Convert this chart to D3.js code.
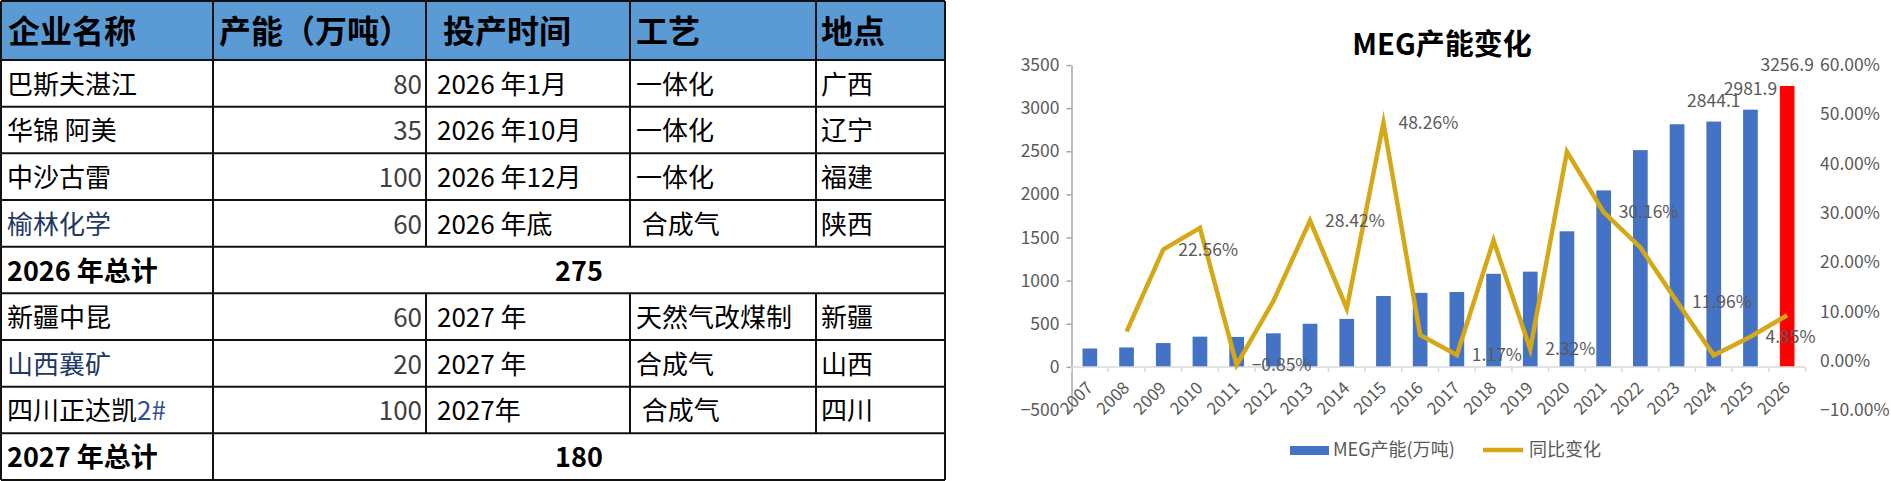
<!DOCTYPE html>
<html><head><meta charset="utf-8">
<script src="https://cdn.jsdelivr.net/npm/d3@7"></script>
<style>
html,body{margin:0;padding:0;background:#fff;}
svg{display:block;}
text{font-family:"Noto Sans CJK SC","Noto Sans",sans-serif;white-space:pre;}
</style></head><body>
<svg id="c" width="1891" height="481"></svg>
<script>
// ---------- table data ----------
const tableHeaders = ["企业名称", "产能（万吨）", "投产时间", "工艺", "地点"];
const companies  = ["巴斯夫湛江", "华锦 阿美", "中沙古雷", "榆林化学", "新疆中昆", "山西襄矿", "四川正达凯2#"];
const capacities = [80, 35, 100, 60, 60, 20, 100];
const startDates = ["2026 年1月", "2026 年10月", "2026 年12月", "2026 年底", "2027 年", "2027 年", "2027年"];
const processes  = ["一体化", "一体化", "一体化", " 合成气", "天然气改煤制", "合成气", " 合成气"];
const locations  = ["广西", "辽宁", "福建", "陕西", "新疆", "山西", "四川"];
const projectYears = [2026, 2026, 2026, 2026, 2027, 2027, 2027];
const totalYears  = [2026, 2027];
const totalLabels = ["2026 年总计", "2027 年总计"];
const totalValues = [275, 180];

// ---------- chart data ----------
const chartTitle = "MEG产能变化";
const years = [2007, 2008, 2009, 2010, 2011, 2012, 2013, 2014, 2015, 2016, 2017, 2018, 2019, 2020, 2021, 2022, 2023, 2024, 2025, 2026];
const capacity = [213, 225, 276, 350, 347, 389, 500, 556, 822, 858, 868, 1079, 1104, 1572, 2046, 2513, 2813, 2844.1, 2981.9, 3256.9];
const yoy = [null, 5.9, 22.56, 26.96, -0.85, 12.1, 28.42, 10.6, 48.26, 5.2, 1.17, 24.4, 2.32, 42.4, 30.16, 23.0, 11.96, 1.1, 4.85, 9.22];
const barLabelYears = [2024, 2025, 2026];
const lineLabelYears = [2009, 2011, 2013, 2015, 2017, 2019, 2021, 2023, 2025];
const highlightYear = 2026;
const leftTicks = [-500, 0, 500, 1000, 1500, 2000, 2500, 3000, 3500];
const rightTicks = [-10, 0, 10, 20, 30, 40, 50, 60];
const seriesNames = ["MEG产能(万吨)", "同比变化"];

const svg = d3.select("#c");

// ================= TABLE =================
const colEdges = [1, 213, 426, 630, 816, 945];
const headerH = 60;
const rowH = (480 - headerH) / 9;
const rows = [];
totalYears.forEach((ty, ti) => {
  projectYears.forEach((py, i) => {
    if (py === ty) rows.push({type: "item", cells: [companies[i], capacities[i], startDates[i], processes[i], locations[i]], name: companies[i]});
  });
  rows.push({type: "total", label: totalLabels[ti], value: totalValues[ti]});
});
const rowY = i => headerH + i * rowH;

const tg = svg.append("g");
tg.append("rect").attr("x", colEdges[0]).attr("y", 1).attr("width", colEdges[5] - colEdges[0]).attr("height", headerH - 1).attr("fill", "#5B9BD5");

const headerPad = [7, 6, 17, 6, 5];
tg.selectAll("text.h").data(tableHeaders).join("text").attr("class", "h")
  .attr("x", (d, i) => colEdges[i] + headerPad[i]).attr("y", 31).attr("dy", "0.36em")
  .attr("font-size", 32).attr("font-weight", "bold").attr("fill", "#000").text(d => d);

const navyNames = new Set(["榆林化学", "山西襄矿"]);
const cellPad = [6, 0, 11, 6, 5];
rows.forEach((r, ri) => {
  const cy = rowY(ri) + rowH / 2 + 1;
  if (r.type === "item") {
    r.cells.forEach((c, ci) => {
      const t = tg.append("text").attr("y", cy).attr("dy", "0.36em").attr("font-size", 26);
      if (ci === 1) {
        t.attr("x", colEdges[2] - 4).attr("text-anchor", "end").attr("fill", "#404040").text(c);
      } else {
        t.attr("x", colEdges[ci] + cellPad[ci]).attr("fill", (ci === 0 && navyNames.has(c)) ? "#1F3864" : "#000");
        if (ci === 0 && /2#$/.test(c)) {
          t.append("tspan").text(c.slice(0, -2));
          t.append("tspan").attr("fill", "#2F4F8F").text(c.slice(-2));
        } else t.text(c);
      }
    });
  } else {
    tg.append("text").attr("x", colEdges[0] + 6).attr("y", cy).attr("dy", "0.36em")
      .attr("font-size", 27).attr("font-weight", "bold").attr("fill", "#000").text(r.label);
    tg.append("text").attr("x", (colEdges[1] + colEdges[5]) / 2).attr("y", cy).attr("dy", "0.36em")
      .attr("text-anchor", "middle").attr("font-size", 27).attr("font-weight", "bold").attr("fill", "#000").text(r.value);
  }
});

// grid lines
const lineCol = "#111";
const hLines = [1, headerH].concat(rows.map((r, i) => rowY(i + 1)));
tg.selectAll("line.hl").data(hLines).join("line").attr("class", "hl")
  .attr("x1", colEdges[0]).attr("x2", colEdges[5]).attr("y1", d => d).attr("y2", d => d)
  .attr("stroke", lineCol).attr("stroke-width", 2);
// header verticals
colEdges.forEach(x0 => tg.append("line").attr("x1", x0).attr("x2", x0).attr("y1", 1).attr("y2", headerH).attr("stroke", lineCol).attr("stroke-width", 2));
rows.forEach((r, ri) => {
  const xs = r.type === "item" ? colEdges : [colEdges[0], colEdges[1], colEdges[5]];
  xs.forEach(x0 => tg.append("line").attr("x1", x0).attr("x2", x0).attr("y1", rowY(ri)).attr("y2", rowY(ri + 1)).attr("stroke", lineCol).attr("stroke-width", 2));
});

// ================= CHART =================
const axisGray = "#595959";
const x = d3.scaleBand().domain(years).range([1071.5, 1805.5]).paddingInner(0.6).paddingOuter(0.3);
const yL = d3.scaleLinear().domain([-500, 3500]).range([410, 65]);
const yR = d3.scaleLinear().domain([-10, 60]).range([410, 65]);
const cx = d => x(d) + x.bandwidth() / 2;
const cg = svg.append("g");

// title
cg.append("text").attr("x", 1442).attr("y", 45).attr("dy", "0.36em").attr("text-anchor", "middle")
  .attr("font-size", 29).attr("font-weight", "bold").attr("fill", "#000").text(chartTitle);

// left axis
const gL = cg.append("g").attr("transform", `translate(${x.range()[0]},0)`)
  .call(d3.axisLeft(yL).tickValues(leftTicks).tickSize(5).tickSizeOuter(0).tickPadding(7).tickFormat(d3.format("d")));
gL.select(".domain").attr("stroke", "#A6A6A6").attr("stroke-width", 1.5);
gL.selectAll(".tick line").attr("stroke", "#A6A6A6").attr("stroke-width", 1.5);
gL.selectAll(".tick text").attr("fill", axisGray).attr("font-size", 17.5).attr("font-family", "\"Noto Sans CJK SC\",sans-serif");

// right axis labels (no line)
cg.selectAll("text.ry").data(rightTicks).join("text").attr("class", "ry")
  .attr("x", 1820).attr("y", d => yR(d)).attr("dy", "0.35em")
  .attr("font-size", 17.5).attr("fill", axisGray).text(d => d3.format(".2f")(d) + "%");

// bars
cg.selectAll("rect.bar").data(years).join("rect").attr("class", "bar")
  .attr("x", d => x(d)).attr("width", x.bandwidth())
  .attr("y", (d, i) => yL(Math.max(0, capacity[i]))).attr("height", (d, i) => Math.abs(yL(capacity[i]) - yL(0)))
  .attr("fill", d => d === highlightYear ? "#FF0000" : "#4472C4");

// category axis at zero
const x0 = x.range()[0], x1 = x.range()[1], y0 = yL(0);
cg.append("line").attr("x1", x0).attr("x2", x1).attr("y1", y0).attr("y2", y0).attr("stroke", "#D9D9D9").attr("stroke-width", 1.5);
cg.selectAll("line.xt").data(d3.range(years.length + 1)).join("line").attr("class", "xt")
  .attr("x1", i => x0 + i * x.step()).attr("x2", i => x0 + i * x.step())
  .attr("y1", y0).attr("y2", y0 + 5).attr("stroke", "#D9D9D9").attr("stroke-width", 1.5);
cg.selectAll("text.xl").data(years).join("text").attr("class", "xl")
  .attr("transform", d => `translate(${cx(d) + 4},389) rotate(-45)`)
  .attr("text-anchor", "end").attr("font-size", 17).attr("fill", axisGray).text(d => d);

// line
const pts = years.map((y, i) => ({year: y, v: yoy[i]}));
const line = d3.line().defined(d => d.v != null).x(d => cx(d.year)).y(d => yR(d.v));
cg.append("path").datum(pts).attr("d", line).attr("fill", "none")
  .attr("stroke", "#D4A817").attr("stroke-width", 4.5).attr("stroke-linejoin", "miter").attr("stroke-miterlimit", 10);

// line labels
cg.selectAll("text.ll").data(pts.filter(p => lineLabelYears.includes(p.year))).join("text").attr("class", "ll")
  .attr("x", d => cx(d.year) + 15).attr("y", d => yR(d.v)).attr("dy", "0.35em")
  .attr("font-size", 17.5).attr("fill", axisGray).text(d => d3.format(".2f")(d.v) + "%");

// bar labels
cg.selectAll("text.bl").data(years.map((y, i) => ({year: y, v: capacity[i]})).filter(d => barLabelYears.includes(d.year)))
  .join("text").attr("class", "bl")
  .attr("x", d => cx(d.year)).attr("y", d => yL(d.v) - 21).attr("dy", "0.35em").attr("text-anchor", "middle")
  .attr("font-size", 17.5).attr("fill", axisGray).text(d => d3.format(".1f")(d.v));

// legend
const lg = cg.append("g");
lg.append("rect").attr("x", 1290).attr("y", 446).attr("width", 39).attr("height", 9).attr("fill", "#4472C4");
lg.append("text").attr("x", 1333).attr("y", 450).attr("dy", "0.35em").attr("font-size", 18).attr("fill", axisGray).text(seriesNames[0]);
lg.append("line").attr("x1", 1483).attr("x2", 1523).attr("y1", 450).attr("y2", 450).attr("stroke", "#D4A817").attr("stroke-width", 4.5);
lg.append("text").attr("x", 1529).attr("y", 450).attr("dy", "0.35em").attr("font-size", 18).attr("fill", axisGray).text(seriesNames[1]);
</script>
</body></html>
